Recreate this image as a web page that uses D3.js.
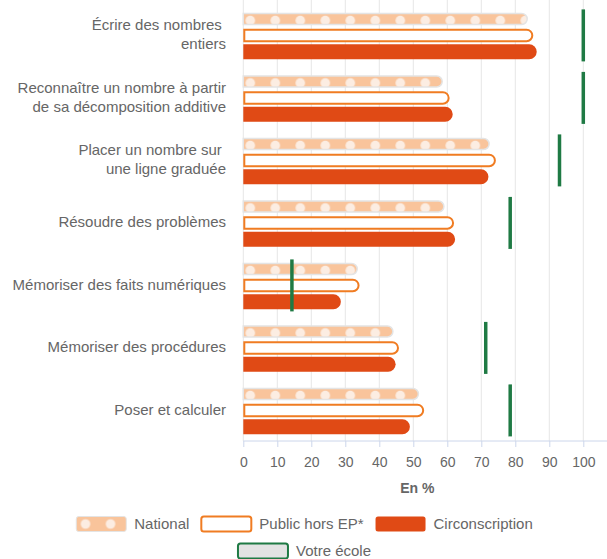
<!DOCTYPE html>
<html>
<head>
<meta charset="utf-8">
<script src="https://cdn.jsdelivr.net/npm/d3@7"></script>
<style>
  body { margin: 0; background: #fff; }
  svg { display: block; font-family: "Liberation Sans", Arial, sans-serif; }
</style>
</head>
<body>
<svg id="chart" width="607" height="559"></svg>
<script>
// categories (line breaks kept as in the original labels)
var categories = [
  "Écrire des nombres \nentiers",
  "Reconnaître un nombre à partir\nde sa décomposition additive",
  "Placer un nombre sur \nune ligne graduée",
  "Résoudre des problèmes",
  "Mémoriser des faits numériques",
  "Mémoriser des procédures",
  "Poser et calculer"
];
var national = [83.5, 58.5, 72.3, 59, 33.5, 44, 51.5];
var publicHorsEP = [85, 60.4, 74, 61.7, 33.9, 45.5, 52.9];
var circonscription = [86.3, 61.6, 72.1, 62.3, 28.7, 44.8, 49];
var votreEcole = [100, 100, 93, 78.5, 14.3, 71.3, 78.5];
var xTicks = [0, 10, 20, 30, 40, 50, 60, 70, 80, 90, 100];
var seriesNames = ["National", "Public hors EP*", "Circonscription", "Votre école"];

var svg = d3.select('#chart');
var width = 607;

var x = d3.scaleLinear().domain([0, 100]).range([243.3, 583.3]);
var y = d3.scaleBand().domain(d3.range(categories.length)).range([4, 441.5]);
// position of the three bars inside one category band
var inner = d3.scaleBand().domain([0, 1, 2]).range([6.8, 56]);

var defs = svg.append('defs');

function dotPattern(id, px, py, h, cy) {
  var p = defs.append('pattern')
    .attr('id', id)
    .attr('patternUnits', 'userSpaceOnUse')
    .attr('x', px).attr('y', py)
    .attr('width', 25).attr('height', h);
  p.append('rect').attr('width', 25).attr('height', h).attr('fill', '#f9c49b');
  p.append('circle').attr('cx', 7).attr('cy', cy).attr('r', 4.8).attr('fill', '#fcede2');
}
dotPattern('dots', x(0), y(0), y.step(), inner(0) + inner.bandwidth() / 2 + 1.5);

// bar with a square left end and a rounded right end
function barPath(x0, x1, yc, h) {
  var r = h / 2;
  var xe = Math.max(x0, x1 - r);
  return 'M' + x0 + ',' + (yc - r) +
    'L' + xe + ',' + (yc - r) +
    'A' + r + ',' + r + ' 0 0 1 ' + xe + ',' + (yc + r) +
    'L' + x0 + ',' + (yc + r) + 'Z';
}

// grid
svg.append('g')
  .selectAll('line')
  .data(xTicks)
  .enter().append('line')
  .attr('x1', function(d) { return x(d); })
  .attr('x2', function(d) { return x(d); })
  .attr('y1', 0)
  .attr('y2', 441)
  .attr('stroke', '#e6e6e6')
  .attr('stroke-width', 1);

// x axis
var xAxis = svg.append('g')
  .attr('transform', 'translate(0,441)')
  .call(d3.axisBottom(x).tickValues(xTicks).tickSize(6).tickPadding(10).tickFormat(d3.format('d')));
xAxis.select('.domain').remove();
xAxis.append('line').attr('x1', x(0)).attr('x2', width).attr('stroke', '#ccd6eb').attr('stroke-width', 1);
xAxis.selectAll('.tick line').attr('stroke', '#ccd6eb');
xAxis.selectAll('.tick text').attr('fill', '#666').style('font-size', '14px').attr('font-family', null);

svg.append('text')
  .attr('x', (x(0) + x(100)) / 2 + 4)
  .attr('y', 493)
  .attr('text-anchor', 'middle')
  .attr('fill', '#666')
  .style('font-size', '14px')
  .style('font-weight', 'bold')
  .text('En %');

// category labels
var labels = svg.append('g');
categories.forEach(function(c, i) {
  var lines = c.split('\n');
  var yc = y(i) + inner(1) + inner.bandwidth() / 2;
  var t = labels.append('text')
    .attr('text-anchor', 'end')
    .attr('fill', '#666')
    .style('font-size', '15px')
    .attr('xml:space', 'preserve');
  lines.forEach(function(l, j) {
    t.append('tspan')
      .attr('x', 226)
      .attr('y', yc + 4.5 + (j - (lines.length - 1) / 2) * 19)
      .text(l);
  });
});

// bars
var bars = svg.append('g');
function cy(i, s) { return y(i) + inner(s) + inner.bandwidth() / 2; }

bars.selectAll('path.national')
  .data(national)
  .enter().append('path')
  .attr('class', 'national')
  .attr('d', function(d, i) { return barPath(x(0), x(d), cy(i, 0), 11); })
  .attr('fill', 'url(#dots)')
  .attr('stroke', '#e4e4e4')
  .attr('stroke-width', 1.5);

bars.selectAll('path.public')
  .data(publicHorsEP)
  .enter().append('path')
  .attr('class', 'public')
  .attr('d', function(d, i) { return barPath(x(0) + 1, x(d), cy(i, 1), 11.5); })
  .attr('fill', '#fff')
  .attr('stroke', '#f07c22')
  .attr('stroke-width', 2);

bars.selectAll('path.circ')
  .data(circonscription)
  .enter().append('path')
  .attr('class', 'circ')
  .attr('d', function(d, i) { return barPath(x(0), x(d), cy(i, 2), 15); })
  .attr('fill', '#e04a15');

// votre école markers
bars.selectAll('line.ecole')
  .data(votreEcole)
  .enter().append('line')
  .attr('class', 'ecole')
  .attr('x1', function(d) { return x(d); })
  .attr('x2', function(d) { return x(d); })
  .attr('y1', function(d, i) { return cy(i, 1) - 26; })
  .attr('y2', function(d, i) { return cy(i, 1) + 26; })
  .attr('stroke', '#1f7a44')
  .attr('stroke-width', 3.5);

// legend
var legendItems = [
  { name: seriesNames[0], fill: 'url(#dotsLegend)', stroke: '#e4e4e4', sw: 1, row: 0 },
  { name: seriesNames[1], fill: '#fff', stroke: '#f07c22', sw: 2, row: 0 },
  { name: seriesNames[2], fill: '#e04a15', stroke: 'none', sw: 0, row: 0 },
  { name: seriesNames[3], fill: '#e3e3e3', stroke: '#1f7a44', sw: 2, row: 1 }
];
var legend = svg.append('g');
var rowY = [516.5, 543.5];
[0, 1].forEach(function(row) {
  var items = legendItems.filter(function(d) { return d.row === row; });
  var g = legend.append('g');
  var cursor = 0;
  items.forEach(function(it) {
    g.append('rect')
      .attr('x', cursor).attr('y', rowY[row])
      .attr('width', 50).attr('height', 15)
      .attr('rx', 2.5)
      .attr('fill', it.fill)
      .attr('stroke', it.stroke)
      .attr('stroke-width', it.sw);
    var t = g.append('text')
      .attr('x', cursor + 58)
      .attr('y', rowY[row] + 12.5)
      .attr('fill', '#666')
      .style('font-size', '15px')
      .text(it.name);
    cursor += 58 + t.node().getComputedTextLength() + 12;
  });
  var total = cursor - 12;
  var shift = 304.5 - total / 2;
  g.attr('transform', 'translate(' + shift + ',0)');
  if (row === 0) {
    // legend swatch pattern, lined up with the first swatch
    dotPattern('dotsLegend', shift + 1, rowY[0], 15, 7.5);
  }
});
</script>
</body>
</html>
